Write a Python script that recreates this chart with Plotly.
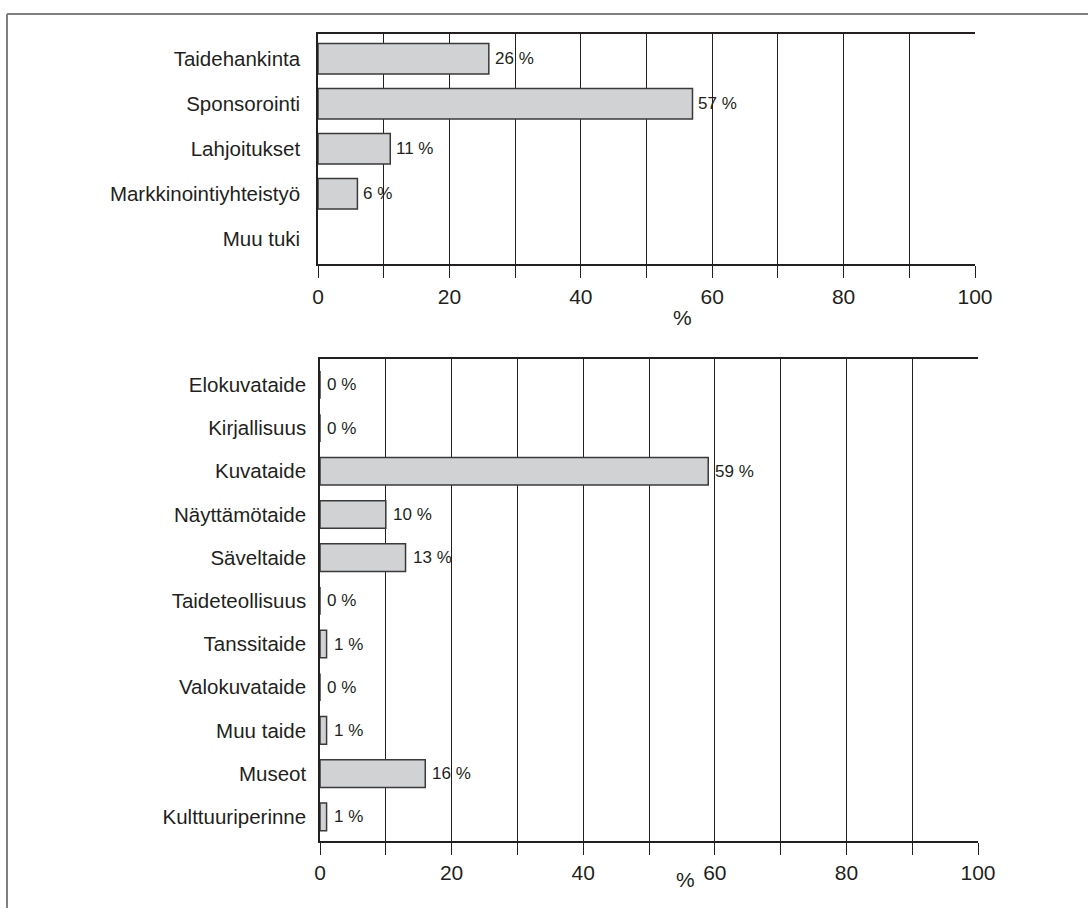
import plotly.graph_objects as go

# Top chart data
top_categories = ["Taidehankinta", "Sponsorointi", "Lahjoitukset", "Markkinointiyhteistyö", "Muu tuki"]
top_values = [26, 57, 11, 6, None]

# Bottom chart data
bot_categories = ["Elokuvataide", "Kirjallisuus", "Kuvataide", "Näyttämötaide", "Säveltaide",
                  "Taideteollisuus", "Tanssitaide", "Valokuvataide", "Muu taide", "Museot",
                  "Kulttuuriperinne"]
bot_values = [0, 0, 59, 10, 13, 0, 1, 0, 1, 16, 1]

x_tickvals = list(range(0, 101, 10))
x_ticktext = [str(v) if v % 20 == 0 else "" for v in x_tickvals]
axis_title = "%"

W, H = 1088, 908
FONT = "Liberation Sans, Arial, Helvetica, sans-serif"
DARK = "#231f20"
BAR_FILL = "#d1d2d4"
BAR_LINE = "#3a3a3a"

def px_x(p):
    return p / W

def px_y(p):
    return 1 - p / H

fig = go.Figure()

fig.add_trace(go.Bar(
    x=top_values, y=top_categories, orientation="h",
    marker=dict(color=BAR_FILL, line=dict(color=BAR_LINE, width=1.5)),
    width=0.68, xaxis="x", yaxis="y", hoverinfo="skip", showlegend=False,
))
fig.add_trace(go.Bar(
    x=bot_values, y=bot_categories, orientation="h",
    marker=dict(color=BAR_FILL, line=dict(color=BAR_LINE, width=1.5)),
    width=0.64, xaxis="x2", yaxis="y2", hoverinfo="skip", showlegend=False,
))

annotations = []
for c, v in zip(top_categories, top_values):
    if v is None:
        continue
    annotations.append(dict(x=v, y=c, xref="x", yref="y", text=f"{v} %", showarrow=False,
                            xanchor="left", xshift=4, font=dict(family=FONT, size=17, color=DARK)))
for c, v in zip(bot_categories, bot_values):
    annotations.append(dict(x=v, y=c, xref="x2", yref="y2", text=f"{v} %", showarrow=False,
                            xanchor="left", xshift=5, font=dict(family=FONT, size=17, color=DARK)))

annotations.append(dict(x=55.5, y=px_y(317), xref="x", yref="paper", text=axis_title,
                        showarrow=False, font=dict(family=FONT, size=21, color=DARK)))
annotations.append(dict(x=55.5, y=px_y(893), xref="x2", yref="paper", text=axis_title,
                        showarrow=False, font=dict(family=FONT, size=21, color=DARK)))

xaxis_common = dict(
    range=[0, 100], tickvals=x_tickvals, ticktext=x_ticktext,
    showgrid=True, gridcolor=DARK, gridwidth=1.3,
    showline=True, linecolor=DARK, linewidth=1.5, mirror=True,
    ticks="outside", ticklen=12, tickcolor=DARK, tickwidth=1.3,
    tickfont=dict(family=FONT, size=21, color=DARK), zeroline=False,
    fixedrange=True,
)
yaxis_common = dict(
    autorange=False, showgrid=False, showline=True, linecolor=DARK, linewidth=1.5,
    ticks="", tickfont=dict(family=FONT, size=20.5, color=DARK), zeroline=False,
    fixedrange=True, type="category",
)

fig.update_layout(
    width=W, height=H,
    margin=dict(l=0, r=0, t=0, b=0, autoexpand=False),
    paper_bgcolor="white", plot_bgcolor="white",
    bargap=0.3,
    xaxis=dict(domain=[px_x(318), px_x(975)], anchor="y", ticklabelstandoff=1, **xaxis_common),
    yaxis=dict(domain=[px_y(264), px_y(34)], anchor="x", range=[4.56, -0.55],
               ticklabelstandoff=12, **yaxis_common),
    xaxis2=dict(domain=[px_x(320), px_x(978)], anchor="y2", ticklabelstandoff=0, **xaxis_common),
    yaxis2=dict(domain=[px_y(841), px_y(359)], anchor="x2", range=[10.56, -0.6],
                ticklabelstandoff=8, **yaxis_common),
    annotations=annotations,
    shapes=[
        dict(type="line", xref="paper", yref="paper", x0=px_x(7), x1=1, y0=px_y(14), y1=px_y(14),
             line=dict(color="#808080", width=2)),
        dict(type="line", xref="paper", yref="paper", x0=px_x(7), x1=px_x(7), y0=px_y(14), y1=0,
             line=dict(color="#808080", width=2)),
    ],
)

fig.write_html("out.html", config={"displayModeBar": False},
               post_script="document.body.style.margin='0';")
